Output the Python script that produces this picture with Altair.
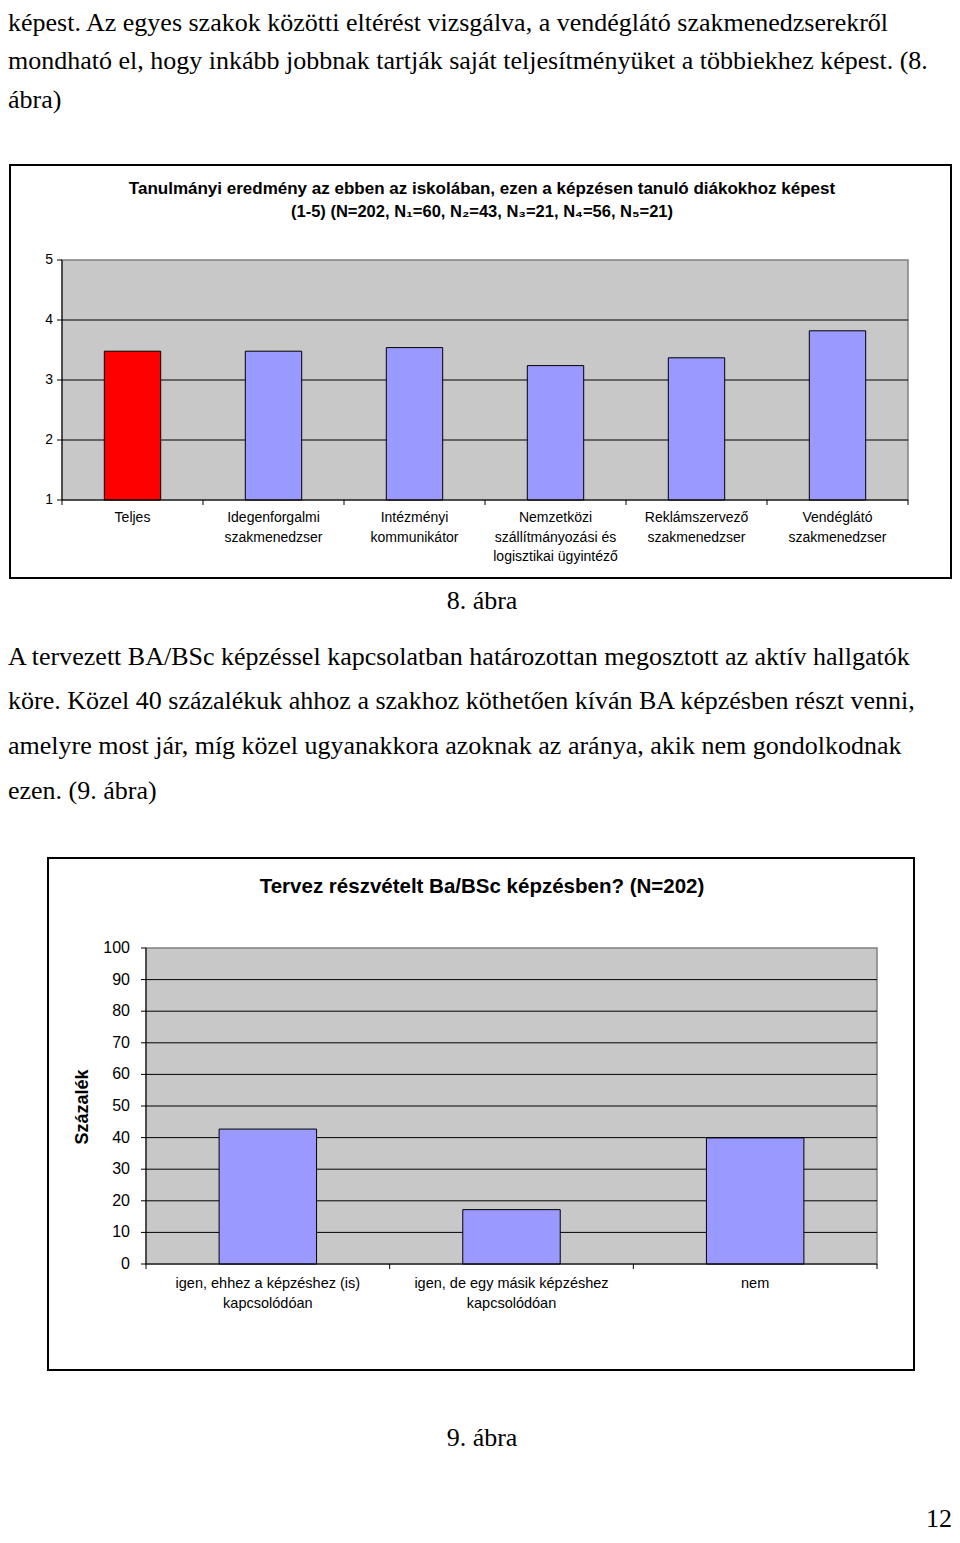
import altair as alt
import pandas as pd

# ---------------- data ----------------
para1 = [
    "képest. Az egyes szakok közötti eltérést vizsgálva, a vendéglátó szakmenedzserekről",
    "mondható el, hogy inkább jobbnak tartják saját teljesítményüket a többiekhez képest. (8.",
    "ábra)",
]
para2 = [
    "A tervezett BA/BSc képzéssel kapcsolatban határozottan megosztott az aktív hallgatók",
    "köre. Közel 40 százalékuk ahhoz a szakhoz köthetően kíván BA képzésben részt venni,",
    "amelyre most jár, míg közel ugyanakkora azoknak az aránya, akik nem gondolkodnak",
    "ezen. (9. ábra)",
]
caption1 = "8. ábra"
caption2 = "9. ábra"
page_no = "12"

title1 = [
    "Tanulmányi eredmény az ebben az iskolában, ezen a képzésen tanuló diákokhoz képest",
    "(1-5) (N=202, N₁=60, N₂=43, N₃=21, N₄=56, N₅=21)",
]
cats1 = [
    "Teljes",
    "Idegenforgalmi\nszakmenedzser",
    "Intézményi\nkommunikátor",
    "Nemzetközi\nszállítmányozási és\nlogisztikai ügyintéző",
    "Reklámszervező\nszakmenedzser",
    "Vendéglátó\nszakmenedzser",
]
vals1 = [3.48, 3.48, 3.54, 3.24, 3.37, 3.82]
group1 = ["összes", "szak", "szak", "szak", "szak", "szak"]
ticks1 = [1, 2, 3, 4, 5]
grid1 = [2, 3, 4]

title2 = "Tervez részvételt Ba/BSc képzésben? (N=202)"
ytitle2 = "Százalék"
cats2 = [
    "igen, ehhez a képzéshez (is)\nkapcsolódóan",
    "igen, de egy  másik képzéshez\nkapcsolódóan",
    "nem",
]
vals2 = [42.7, 17.2, 39.9]
ticks2 = [0, 10, 20, 30, 40, 50, 60, 70, 80, 90, 100]
grid2 = [10, 20, 30, 40, 50, 60, 70, 80, 90]

# ---------------- styles / layout ----------------
SERIF = "Liberation Serif"
SANS = "Liberation Sans"
BG = "#C8C8C8"
BLUE = "#9999FF"
RED = "#FF0000"


def txt(s, x, y, size, font, weight="normal", align="left", baseline="alphabetic", angle=None):
    kw = dict(align=align, baseline=baseline, font=font, fontSize=size, fontWeight=weight, color="black")
    if angle is not None:
        kw["angle"] = angle
    return alt.Chart(pd.DataFrame({"t": [s]})).mark_text(**kw).encode(
        x=alt.value(x), y=alt.value(y), text="t:N"
    )


def frame(x1, x2, y1, y2, stroke="black", sw=2, fill=None):
    if fill is None:
        m = alt.Chart(pd.DataFrame({"a": [0]})).mark_rect(filled=False, stroke=stroke, strokeWidth=sw)
    else:
        m = alt.Chart(pd.DataFrame({"a": [0]})).mark_rect(fill=fill, stroke=stroke, strokeWidth=sw)
    return m.encode(x=alt.value(x1), x2=alt.value(x2), y=alt.value(y1), y2=alt.value(y2))


def hline(x1, x2, y, color="black", sw=1):
    return alt.Chart(pd.DataFrame({"a": [0]})).mark_rule(color=color, strokeWidth=sw).encode(
        x=alt.value(x1), x2=alt.value(x2), y=alt.value(y)
    )


def vline(x, y1, y2, color="black", sw=1):
    return alt.Chart(pd.DataFrame({"a": [0]})).mark_rule(color=color, strokeWidth=sw).encode(
        x=alt.value(x), y=alt.value(y1), y2=alt.value(y2)
    )


layers = []

# ---- body text ----
BODY = 26
p1_y = [23, 61, 100]
for s, y in zip(para1, p1_y):
    layers.append(txt(s, 0, y, BODY, SERIF))
p2_y = [657, 701, 746, 791]
for s, y in zip(para2, p2_y):
    layers.append(txt(s, 0, y, BODY, SERIF))
layers.append(txt(caption1, 474, 601, 26, SERIF, align="center"))
layers.append(txt(caption2, 474, 1438, 26, SERIF, align="center"))
layers.append(txt(page_no, 944, 1519, 26, SERIF, align="right"))

# ---- chart 1 ----
X0, X1, YT, YB = 54, 900, 252, 492
df1 = pd.DataFrame({"cat": cats1, "val": vals1, "grp": group1})
xs1 = alt.Scale(domain=cats1, range=[X0, X1], paddingInner=0, paddingOuter=0)
ys1 = alt.Scale(domain=[1, 5], range=[YB, YT], nice=False, zero=False)

c1 = []
c1.append(frame(2, 943, 157, 570, sw=2))
c1.append(frame(X0, X1, YT, YB, stroke="#808080", sw=1.5, fill=BG))
c1.append(
    alt.Chart(pd.DataFrame({"v": grid1})).mark_rule(color="black", strokeWidth=1).encode(
        y=alt.Y("v:Q", scale=ys1, axis=None), x=alt.value(X0), x2=alt.value(X1)
    )
)
c1.append(
    alt.Chart(df1).mark_bar(width=alt.RelativeBandSize(0.4), stroke="black", strokeWidth=1).encode(
        x=alt.X("cat:N", scale=xs1, axis=None, sort=None),
        y=alt.Y("val:Q", scale=ys1, axis=None),
        y2=alt.datum(1),
        color=alt.Color("grp:N", scale=alt.Scale(domain=["összes", "szak"], range=[RED, BLUE]), legend=None),
    )
)
c1.append(vline(X0, YT, YB))
c1.append(hline(X0, X1, YB))
c1.append(
    alt.Chart(pd.DataFrame({"v": ticks1})).mark_rule(color="black").encode(
        y=alt.Y("v:Q", scale=ys1, axis=None), x=alt.value(X0 - 5), x2=alt.value(X0)
    )
)
c1.append(
    alt.Chart(pd.DataFrame({"v": ticks1})).mark_text(align="right", baseline="middle", font=SANS, fontSize=14).encode(
        y=alt.Y("v:Q", scale=ys1, axis=None), x=alt.value(X0 - 9), text="v:Q"
    )
)
c1.append(
    alt.Chart(df1).mark_rule(color="black").encode(
        x=alt.X("cat:N", scale=xs1, axis=None, bandPosition=0), y=alt.value(YB), y2=alt.value(YB + 5)
    )
)
c1.append(
    alt.Chart(df1.tail(1)).mark_rule(color="black").encode(
        x=alt.X("cat:N", scale=xs1, axis=None, bandPosition=1), y=alt.value(YB), y2=alt.value(YB + 5)
    )
)
c1.append(
    alt.Chart(df1).mark_text(baseline="top", font=SANS, fontSize=14, lineBreak="\n", lineHeight=19.5).encode(
        x=alt.X("cat:N", scale=xs1, axis=None), y=alt.value(YB + 11), text="cat:N"
    )
)
c1.append(txt(title1[0], 474, 186, 17, SANS, weight="bold", align="center"))
c1.append(txt(title1[1], 474, 209, 16.5, SANS, weight="bold", align="center"))
layers.append(alt.layer(*c1))

# ---- chart 2 ----
A0, A1, BT, BB = 138, 869, 940, 1256
df2 = pd.DataFrame({"cat": cats2, "val": vals2})
xs2 = alt.Scale(domain=cats2, range=[A0, A1], paddingInner=0, paddingOuter=0)
ys2 = alt.Scale(domain=[0, 100], range=[BB, BT], nice=False, zero=False)

c2 = []
c2.append(frame(40, 906, 850, 1362, sw=2))
c2.append(frame(A0, A1, BT, BB, stroke="#808080", sw=1.5, fill=BG))
c2.append(
    alt.Chart(pd.DataFrame({"v": grid2})).mark_rule(color="black", strokeWidth=1).encode(
        y=alt.Y("v:Q", scale=ys2, axis=None), x=alt.value(A0), x2=alt.value(A1)
    )
)
c2.append(
    alt.Chart(df2).mark_bar(width=alt.RelativeBandSize(0.4), stroke="black", strokeWidth=1, color=BLUE).encode(
        x=alt.X("cat:N", scale=xs2, axis=None, sort=None),
        y=alt.Y("val:Q", scale=ys2, axis=None),
        y2=alt.datum(0),
    )
)
c2.append(vline(A0, BT, BB))
c2.append(hline(A0, A1, BB))
c2.append(
    alt.Chart(pd.DataFrame({"v": ticks2})).mark_rule(color="black").encode(
        y=alt.Y("v:Q", scale=ys2, axis=None), x=alt.value(A0 - 5), x2=alt.value(A0)
    )
)
c2.append(
    alt.Chart(pd.DataFrame({"v": ticks2})).mark_text(align="right", baseline="middle", font=SANS, fontSize=16).encode(
        y=alt.Y("v:Q", scale=ys2, axis=None), x=alt.value(A0 - 16), text="v:Q"
    )
)
c2.append(
    alt.Chart(df2).mark_rule(color="black").encode(
        x=alt.X("cat:N", scale=xs2, axis=None, bandPosition=0), y=alt.value(BB), y2=alt.value(BB + 5)
    )
)
c2.append(
    alt.Chart(df2.tail(1)).mark_rule(color="black").encode(
        x=alt.X("cat:N", scale=xs2, axis=None, bandPosition=1), y=alt.value(BB), y2=alt.value(BB + 5)
    )
)
c2.append(
    alt.Chart(df2).mark_text(baseline="top", font=SANS, fontSize=14.5, lineBreak="\n", lineHeight=20).encode(
        x=alt.X("cat:N", scale=xs2, axis=None), y=alt.value(BB + 13), text="cat:N"
    )
)
c2.append(txt(title2, 474, 885, 20.5, SANS, weight="bold", align="center"))
c2.append(txt(ytitle2, 75, 1099, 18, SANS, weight="bold", align="center", baseline="middle", angle=270))
layers.append(alt.layer(*c2))

chart = (
    alt.layer(*layers)
    .resolve_scale(x="independent", y="independent")
    .properties(width=944, height=1527, padding=0, background="white",
                autosize=alt.AutoSizeParams(type="none"))
    .configure_view(stroke=None)
)

chart.save("out.html", embed_options={"renderer": "svg", "actions": False})
